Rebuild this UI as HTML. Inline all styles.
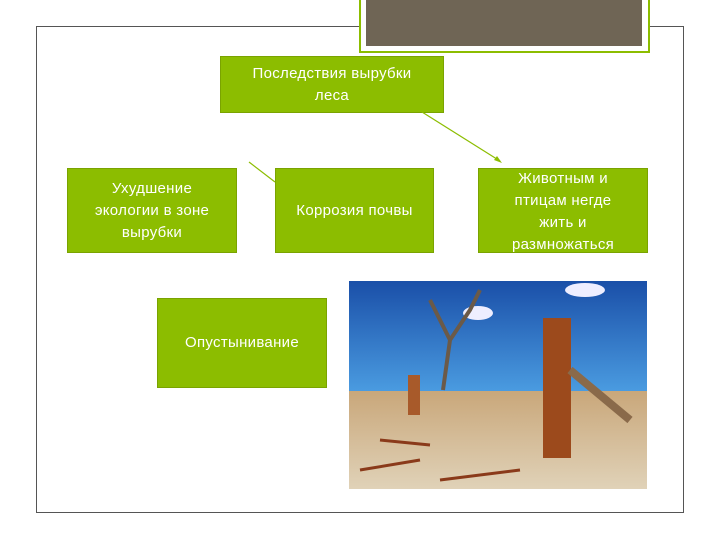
<!DOCTYPE html>
<html><head><meta charset="utf-8"><style>
body{margin:0;width:720px;height:540px;background:#fff;position:relative;overflow:hidden;font-family:"Liberation Sans",sans-serif}
.b{position:absolute;background:#8cbd00;border:1px solid #7aa300;color:#fff;display:flex;align-items:center;justify-content:center;text-align:center;font-size:15px;line-height:22px;box-sizing:border-box;letter-spacing:0.3px}
</style></head><body>
<div style="position:absolute;left:36px;top:26px;width:648px;height:487px;border:1px solid #555;box-sizing:border-box"></div>
<div style="position:absolute;left:359px;top:-2px;width:291px;height:55px;background:#fff;border:2px solid #8cbd00;box-sizing:border-box"></div>
<div style="position:absolute;left:366px;top:0;width:276px;height:46px;background:#6f6555"></div>
<div class="b" style="left:220px;top:56px;width:224px;height:57px;align-items:flex-start;padding-top:6px">Последствия вырубки<br>леса</div>
<div class="b" style="left:67px;top:168px;width:170px;height:85px">Ухудшение<br>экологии в зоне<br>вырубки</div>
<div class="b" style="left:275px;top:168px;width:159px;height:85px">Коррозия почвы</div>
<div class="b" style="left:478px;top:168px;width:170px;height:85px;align-items:flex-end;padding-bottom:0;line-height:22px"><span style="position:relative;top:4px">Животным и<br>птицам негде<br>жить и<br>размножаться</span></div>
<div class="b" style="left:157px;top:298px;width:170px;height:90px">Опустынивание</div>
<svg style="position:absolute;left:0;top:0" width="720" height="540">
<line x1="422" y1="112" x2="500" y2="161" stroke="#8cbd00" stroke-width="1.2"/>
<polygon points="502,163 494,160 497,156" fill="#8cbd00"/>
<line x1="249" y1="162" x2="275" y2="182" stroke="#8cbd00" stroke-width="1.2"/>
<defs><linearGradient id="s" x1="0" y1="0" x2="0" y2="1"><stop offset="0" stop-color="#1a4fa8"/><stop offset="1" stop-color="#4a9be0"/></linearGradient>
<linearGradient id="g" x1="0" y1="0" x2="0" y2="1"><stop offset="0" stop-color="#c9a77a"/><stop offset="1" stop-color="#e0d2b8"/></linearGradient></defs>
<rect x="349" y="281" width="298" height="110" fill="url(#s)"/>
<rect x="349" y="391" width="298" height="98" fill="url(#g)"/>
<ellipse cx="585" cy="290" rx="20" ry="7" fill="#eef"/>
<ellipse cx="478" cy="313" rx="15" ry="7" fill="#eef"/>
<path d="M443 390 L450 340 L430 300 M450 340 L470 310 L480 290" stroke="#6b5a48" stroke-width="4" fill="none"/>
<rect x="543" y="318" width="28" height="140" fill="#9c4a1c"/>
<rect x="408" y="375" width="12" height="40" fill="#a85a2a"/>
<path d="M570 370 L630 420" stroke="#8a6a4a" stroke-width="8"/>
<path d="M360 470 L420 460 M440 480 L520 470 M380 440 L430 445" stroke="#8a3a1a" stroke-width="3"/>
</svg>
</body></html>
